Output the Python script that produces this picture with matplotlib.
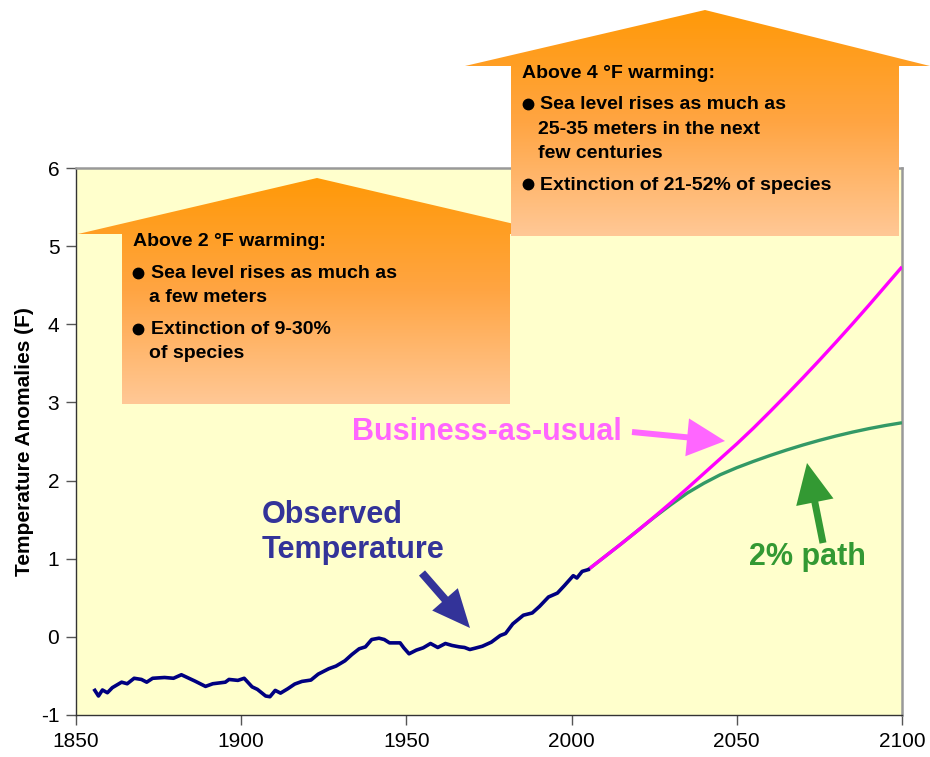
import matplotlib
matplotlib.use('Agg')
import matplotlib.pyplot as plt
import numpy as np
from matplotlib.patches import Polygon, FancyArrow
from matplotlib.colors import LinearSegmentedColormap

plt.rcParams['font.family'] = ['Liberation Sans', 'DejaVu Sans']
plt.rcParams['axes.unicode_minus'] = False

# ---------------- data ----------------
obs_years = [1855.7, 1856.8, 1858.0, 1859.5, 1861.0, 1863.8, 1865.5, 1867.6, 1869.8, 1871.4,
             1873.2, 1876.8, 1879.5, 1881.9, 1886.0, 1889.2, 1891.4, 1895.2, 1896.3, 1899.0,
             1900.9, 1903.3, 1904.9, 1907.4, 1908.7, 1910.3, 1911.9, 1914.1, 1916.2, 1918.4,
             1921.1, 1923.3, 1926.5, 1928.7, 1931.4, 1933.5, 1935.7, 1937.6, 1939.5, 1941.7,
             1943.3, 1944.9, 1948.1, 1949.2, 1950.8, 1953.0, 1955.1, 1957.3, 1959.5, 1961.8,
             1963.8, 1966.0, 1967.6, 1969.2, 1970.8, 1973.0, 1975.7, 1978.4, 1980.0, 1982.2,
             1985.4, 1988.1, 1990.3, 1993.0, 1995.7, 1997.8, 2000.5, 2001.6, 2003.2, 2005.0]
obs_vals = [-0.685, -0.757, -0.68, -0.715, -0.65, -0.58, -0.60, -0.53, -0.545, -0.58,
            -0.53, -0.52, -0.53, -0.485, -0.566, -0.634, -0.60, -0.58, -0.545, -0.557,
            -0.53, -0.64, -0.672, -0.757, -0.766, -0.685, -0.72, -0.664, -0.604, -0.57,
            -0.553, -0.477, -0.408, -0.374, -0.306, -0.226, -0.153, -0.128, -0.034, -0.017,
            -0.034, -0.077, -0.077, -0.14, -0.217, -0.17, -0.14, -0.085, -0.136, -0.085,
            -0.11, -0.128, -0.136, -0.162, -0.145, -0.12, -0.068, 0.017, 0.043, 0.166,
            0.277, 0.306, 0.39, 0.51, 0.56, 0.655, 0.783, 0.753, 0.838, 0.86]

proj_years = [2005, 2010, 2015, 2020, 2025, 2030, 2035, 2040, 2045, 2050,
              2055, 2060, 2065, 2070, 2075, 2080, 2085, 2090, 2095, 2100]
bau_vals = [0.86, 1.025, 1.19, 1.36, 1.535, 1.715, 1.90, 2.09, 2.28, 2.47,
            2.67, 2.88, 3.095, 3.315, 3.54, 3.77, 4.005, 4.245, 4.49, 4.735]
path2_vals = [0.86, 1.025, 1.19, 1.36, 1.53, 1.69, 1.84, 1.965, 2.075, 2.165,
              2.245, 2.32, 2.39, 2.455, 2.515, 2.57, 2.62, 2.665, 2.705, 2.74]

x_ticks = [1850, 1900, 1950, 2000, 2050, 2100]
y_ticks = [-1, 0, 1, 2, 3, 4, 5, 6]

box2_title = "Above 2 \u00b0F warming:"
box2_items = [["Sea level rises as much as", "a few meters"],
              ["Extinction of 9-30%", "of species"]]
box4_title = "Above 4 \u00b0F warming:"
box4_items = [["Sea level rises as much as", "25-35 meters in the next", "few centuries"],
              ["Extinction of 21-52% of species"]]

# ---------------- figure ----------------
W, H = 930, 757
fig = plt.figure(figsize=(W / 100, H / 100), dpi=100)
L, R, T, B = 76, 902, 168, 715
ax = fig.add_axes([L / W, 1 - B / H, (R - L) / W, (B - T) / H])
ax.set_facecolor('#FFFFCC')
ax.set_xlim(1850, 2100)
ax.set_ylim(-1, 6)
ax.set_xticks(x_ticks)
ax.set_yticks(y_ticks)
ax.tick_params(axis='both', direction='out', length=7, width=1, color='#555555',
               labelsize=15, pad=5)
for s in ['left', 'bottom']:
    ax.spines[s].set_color('#333333')
    ax.spines[s].set_linewidth(1.0)
for s in ['top', 'right']:
    ax.spines[s].set_color('#999999')
    ax.spines[s].set_linewidth(1.8)
ax.set_ylabel('Temperature Anomalies (F)', fontsize=15, fontweight='bold', labelpad=5)

ax.plot(proj_years, path2_vals, color='#339966', lw=2.4, solid_capstyle='butt', zorder=3)
ax.plot(proj_years, bau_vals, color='#FF00FF', lw=2.4, solid_capstyle='butt', zorder=4)
ax.plot(obs_years, obs_vals, color='#000080', lw=2.6, solid_joinstyle='round', zorder=5)

# ---------------- overlay in pixel coordinates ----------------
ov = fig.add_axes([0, 0, 1, 1], zorder=5)
ov.set_xlim(0, W)
ov.set_ylim(H, 0)
ov.axis('off')
ov.patch.set_alpha(0)

cmap = LinearSegmentedColormap.from_list('orng', ['#FF9908', '#FFA543', '#FFC896'])
grad = np.linspace(0, 1, 256).reshape(-1, 1)


def house(tipL, apex, tipR, bodyL, bodyR, roofY, bottom):
    pts = [(bodyL, bottom), (bodyL, roofY), (tipL, roofY), apex, (tipR, roofY),
           (bodyR, roofY), (bodyR, bottom)]
    poly = Polygon(pts, closed=True, facecolor='none', edgecolor='none')
    ov.add_patch(poly)
    im = ov.imshow(grad, cmap=cmap, extent=(tipL, tipR, apex[1], bottom), origin='lower',
                   aspect='auto', interpolation='bilinear')
    im.set_clip_path(poly)


def box_text(x0, y0, title, items, x_bullet, x_text, dy_line, dy_item):
    ov.text(x0, y0, title, fontsize=14, fontweight='bold', va='center', ha='left')
    y = y0 + dy_item
    for item in items:
        ov.plot(x_bullet, y - 1, 'o', color='black', ms=7.5)
        for k, line in enumerate(item):
            xx = x_text if k == 0 else x_text - 2
            ov.text(xx, y, line, fontsize=14, fontweight='bold', va='center', ha='left')
            y += dy_line
        y += dy_item - dy_line


# left house (2 F)
house(78, (317, 178), 557, 122, 510, 234, 404)
# right house (4 F)
house(465, (705, 10), 930, 511, 899, 66, 236)

box_text(133, 242, box2_title, box2_items, 138, 151, 24.5, 31.5)
box_text(522, 73, box4_title, box4_items, 528, 540, 24.5, 31.5)

# annotation arrows
ov.add_patch(FancyArrow(632, 432, 725 - 632, 441 - 432, width=6, head_width=38,
                        head_length=38, length_includes_head=True,
                        color='#FF66FF', lw=0))
ov.text(352, 432, 'Business-as-usual', fontsize=22, fontweight='bold', color='#FF66FF',
        va='center', ha='left')

ov.add_patch(FancyArrow(823, 543, 807 - 823, 463 - 543, width=7, head_width=38,
                        head_length=40, length_includes_head=True,
                        color='#339933', lw=0))
ov.text(807, 557, '2% path', fontsize=22, fontweight='bold', color='#339933',
        va='center', ha='center')

ov.add_patch(FancyArrow(422, 573, 470 - 422, 628 - 573, width=8, head_width=34,
                        head_length=38, length_includes_head=True,
                        color='#333399', lw=0))
ov.text(262, 515, 'Observed', fontsize=22, fontweight='bold', color='#333399',
        va='center', ha='left')
ov.text(262, 550, 'Temperature', fontsize=22, fontweight='bold', color='#333399',
        va='center', ha='left')

fig.savefig('out.png', dpi=100)
